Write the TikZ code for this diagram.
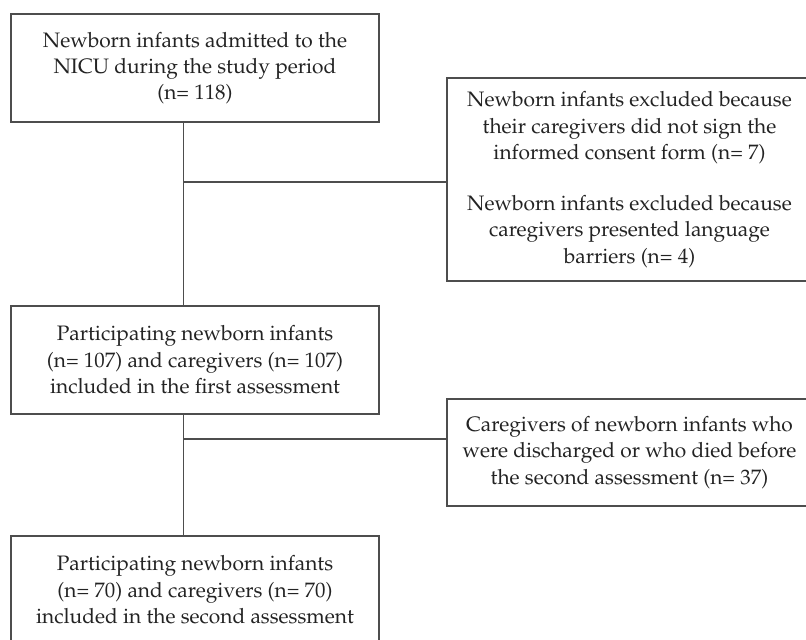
\documentclass[tikz,border=0pt]{standalone}
\usepackage[T1]{fontenc}
\usepackage{mathpazo}
\usepackage{xcolor}
\usetikzlibrary{positioning}

\definecolor{linegray}{HTML}{4D4D4D}
\definecolor{textgray}{HTML}{232323}

\tikzset{
  flowbox/.style={draw=linegray, line width=0.6pt, align=center, inner sep=0pt,
    text=textgray, font=\fontsize{11.9}{15}\selectfont},
  mainbox/.style={flowbox, minimum width=7.36cm, minimum height=2.16cm},
  exclbox/.style={flowbox, minimum width=7.30cm},
  link/.style={draw=linegray, line width=0.6pt}
}

\begin{document}
\begin{tikzpicture}

\useasboundingbox (0,0) rectangle (16.12,-12.80);

% main column
\node[mainbox] (admitted) at (3.90,-1.36) {Newborn infants admitted to the\\ NICU during the study period\\ (n= 118)};
\node[mainbox] (first) at (3.90,-7.20) {Participating newborn infants\\ (n= 107) and caregivers (n= 107)\\ included in the first assessment};
\node[mainbox] (second) at (3.90,-11.80) {Participating newborn infants\\ (n= 70) and caregivers (n= 70)\\ included in the second assessment};

% exclusions
\node[exclbox, minimum height=4.06cm] (excl1) at (12.59,-3.59) {Newborn infants excluded because\\ their caregivers did not sign the\\ informed consent form (n= 7)\\[14pt] Newborn infants excluded because\\ caregivers presented language\\ barriers (n= 4)};
\node[exclbox, minimum height=2.14cm] (excl2) at (12.59,-9.05) {Caregivers of newborn infants who\\ were discharged or who died before\\ the second assessment (n= 37)};

% trunk and branches
\coordinate (trunk) at (3.67,0);
\coordinate (split1) at (3.67,-3.64);
\coordinate (split2) at (3.67,-8.78);

\draw[link] (admitted.south -| trunk) -- (first.north -| trunk);
\draw[link] (first.south -| trunk) -- (second.north -| trunk);
\draw[link] (split1) -- (excl1.west |- split1);
\draw[link] (split2) -- (excl2.west |- split2);

\end{tikzpicture}
\end{document}
